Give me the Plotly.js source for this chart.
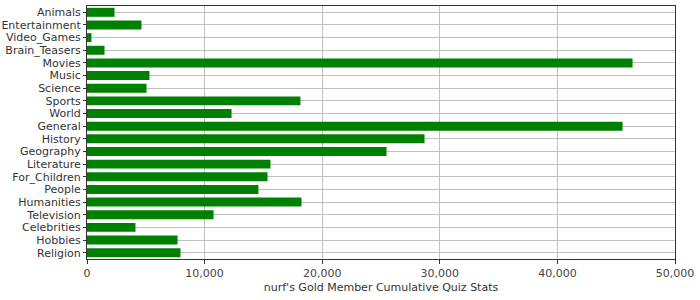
<!DOCTYPE html>
<html>
<head>
<meta charset="utf-8">
<script src="https://cdn.plot.ly/plotly-3.0.1.min.js"></script>
<style>html,body{margin:0;padding:0;background:#fff;}#chart{width:700px;height:300px;}</style>
</head>
<body>
<div id="chart"></div>
<script>
var categories = ["Animals","Entertainment","Video_Games","Brain_Teasers","Movies","Music","Science","Sports","World","General","History","Geography","Literature","For_Children","People","Humanities","Television","Celebrities","Hobbies","Religion"];
var values = [2340,4630,380,1490,46390,5310,5060,18150,12290,45540,28700,25470,15600,15350,14580,18240,10760,4120,7700,7950];
var tickVals = [0,10000,20000,30000,40000,50000];
var tickText = ["0","10,000","20,000","30,000","40,000","50,000"];

var trace = {
  type: "bar",
  orientation: "h",
  x: values,
  y: categories,
  marker: {color: "#008000", line: {width: 0}},
  hoverinfo: "x+y"
};

var layout = {
  width: 700, height: 300,
  margin: {l: 87, r: 25, t: 6, b: 41, pad: 0},
  paper_bgcolor: "#ffffff",
  plot_bgcolor: "#ffffff",
  bargap: 0.29,
  showlegend: false,
  font: {family: "DejaVu Sans, sans-serif", size: 11, color: "#333333"},
  xaxis: {
    range: [0, 50000],
    tickmode: "array",
    tickvals: tickVals,
    ticktext: tickText,
    showgrid: true, gridcolor: "#c0c0c0", gridwidth: 1,
    zeroline: false,
    showline: true, linecolor: "#333333", linewidth: 1, mirror: true,
    ticks: "outside", ticklen: 4, tickcolor: "#333333",
    tickfont: {size: 11, color: "#444444"},
    title: {text: "nurf's Gold Member Cumulative Quiz Stats", font: {size: 11, color: "#333333"}, standoff: 4}
  },
  yaxis: {
    type: "category",
    categoryorder: "array",
    categoryarray: categories,
    tickmode: "array",
    tickvals: categories,
    ticktext: categories,
    autorange: "reversed",
    showgrid: true, gridcolor: "#c0c0c0", gridwidth: 1,
    zeroline: false,
    showline: true, linecolor: "#333333", linewidth: 1, mirror: true,
    ticks: "outside", ticklen: 3, tickcolor: "#333333",
    tickfont: {size: 11, color: "#333333"}
  }
};

Plotly.newPlot("chart", [trace], layout, {displayModeBar: false, staticPlot: true});
</script>
</body>
</html>
